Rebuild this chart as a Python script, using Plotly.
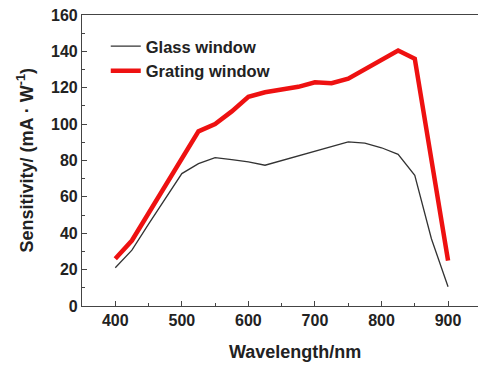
import plotly.graph_objects as go

glass_x = [400, 425, 450, 475, 500, 525, 550, 575, 600, 625, 650, 675, 700, 725, 750, 775, 800, 825, 850, 875, 900]
glass_y = [21, 30.7, 45, 59, 72.8, 78.3, 81.6, 80.5, 79.2, 77.4, 80, 82.5, 85, 87.5, 90.2, 89.6, 87, 83.4, 71.9, 37, 10.6]

grating_x = [400, 425, 450, 475, 500, 525, 550, 575, 600, 625, 650, 675, 700, 725, 750, 775, 800, 825, 850, 900]
grating_y = [26, 36, 51, 66, 81.5, 96, 100, 107, 115, 117.5, 119, 120.5, 123, 122.5, 125, 130, 135.5, 140.5, 136, 25]

x_ticks = [400, 500, 600, 700, 800, 900]
y_ticks = [0, 20, 40, 60, 80, 100, 120, 140, 160]

FONT = "Liberation Sans, Arial, sans-serif"
TXT = "#222222"

fig = go.Figure()
fig.add_trace(go.Scatter(x=glass_x, y=glass_y, mode="lines", name="Glass window",
                         line=dict(color="#333333", width=1.3)))
fig.add_trace(go.Scatter(x=grating_x, y=grating_y, mode="lines", name="Grating window",
                         line=dict(color="#ee1111", width=4.5)))

fig.update_layout(
    width=478, height=365,
    margin=dict(l=82, r=0, t=15, b=59, autoexpand=False),
    paper_bgcolor="white", plot_bgcolor="white",
    font=dict(family=FONT, color=TXT),
    showlegend=True,
    legend=dict(x=0.06, y=0.952, xanchor="left", yanchor="top",
                bgcolor="rgba(0,0,0,0)", borderwidth=0,
                font=dict(size=16.5, weight="bold", family=FONT, color=TXT),
                tracegroupgap=0),
    xaxis=dict(range=[350, 945], tickvals=x_ticks, ticks="inside", ticklen=5,
               tickcolor="#444", showline=True, linecolor="#444", linewidth=1.2,
               mirror=True, showgrid=False, zeroline=False, automargin=False,
               tickfont=dict(size=16, weight="bold", family=FONT, color=TXT),
               minor=dict(ticks="inside", ticklen=3, dtick=50, tickcolor="#444")),
    yaxis=dict(range=[0, 160], tickvals=y_ticks, ticks="inside", ticklen=5,
               tickcolor="#444", showline=True, linecolor="#444", linewidth=1.2,
               mirror=True, showgrid=False, zeroline=False, automargin=False,
               tickfont=dict(size=16, weight="bold", family=FONT, color=TXT),
               minor=dict(ticks="inside", ticklen=3, dtick=10, tickcolor="#444")),
)

fig.add_annotation(text="<b>Sensitivity/ (mA · W<sup>-1</sup>)</b>", xref="paper", yref="paper",
                   x=0, y=0.5, xshift=-56, textangle=-90, xanchor="center", yanchor="middle",
                   showarrow=False, font=dict(size=18, family=FONT, color=TXT))

fig.add_annotation(text="<b>Wavelength/nm</b>", xref="paper", yref="paper",
                   x=(295 - 82) / 396, y=0, yshift=-46, xanchor="center", yanchor="middle",
                   showarrow=False, font=dict(size=18, family=FONT, color=TXT))

fig.write_html("out.html", config={"displayModeBar": False},
               post_script="document.body.style.margin='0';")
